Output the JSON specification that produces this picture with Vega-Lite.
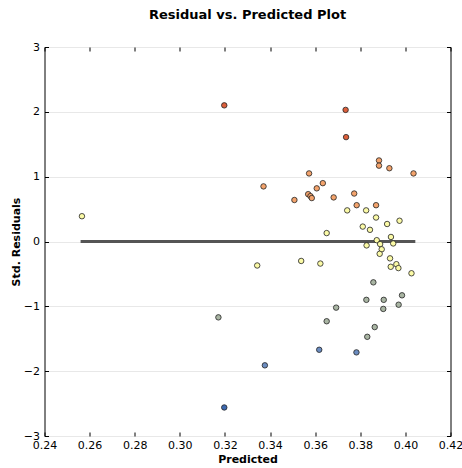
{
  "$schema": "https://vega.github.io/schema/vega-lite/v6.json",
  "width": 406,
  "height": 389,
  "autosize": {"type": "none"},
  "padding": {"left": 44.5, "top": 47, "right": 11, "bottom": 32},
  "background": "white",
  "title": {"text": "Residual vs. Predicted Plot", "font": "DejaVu Sans", "fontSize": 13, "fontWeight": "bold", "color": "black", "offset": 19},
  "config": {
    "view": {"stroke": "black", "strokeWidth": 1},
    "axis": {"labelFont": "DejaVu Sans", "labelFontSize": 11, "labelColor": "black", "titleFont": "DejaVu Sans", "titleFontSize": 11, "titleFontWeight": "bold", "titleColor": "black", "tickColor": "black", "domain": false, "tickSize": -4}
  },
  "datasets": {
    "pts": [
      {"pred": 0.3197, "resid": 2.10},
      {"pred": 0.3735, "resid": 2.03},
      {"pred": 0.3737, "resid": 1.61},
      {"pred": 0.3883, "resid": 1.25},
      {"pred": 0.3883, "resid": 1.17},
      {"pred": 0.3929, "resid": 1.13},
      {"pred": 0.4036, "resid": 1.05},
      {"pred": 0.3573, "resid": 1.05},
      {"pred": 0.3371, "resid": 0.85},
      {"pred": 0.3634, "resid": 0.90},
      {"pred": 0.3607, "resid": 0.82},
      {"pred": 0.3569, "resid": 0.73},
      {"pred": 0.3579, "resid": 0.70},
      {"pred": 0.3585, "resid": 0.67},
      {"pred": 0.3508, "resid": 0.64},
      {"pred": 0.3682, "resid": 0.68},
      {"pred": 0.3773, "resid": 0.74},
      {"pred": 0.3784, "resid": 0.56},
      {"pred": 0.3870, "resid": 0.56},
      {"pred": 0.3742, "resid": 0.48},
      {"pred": 0.3826, "resid": 0.48},
      {"pred": 0.3870, "resid": 0.37},
      {"pred": 0.3974, "resid": 0.32},
      {"pred": 0.3919, "resid": 0.27},
      {"pred": 0.3811, "resid": 0.23},
      {"pred": 0.3843, "resid": 0.18},
      {"pred": 0.3651, "resid": 0.13},
      {"pred": 0.3936, "resid": 0.07},
      {"pred": 0.3873, "resid": 0.02},
      {"pred": 0.3828, "resid": -0.06},
      {"pred": 0.3888, "resid": -0.04},
      {"pred": 0.3946, "resid": -0.03},
      {"pred": 0.3895, "resid": -0.12},
      {"pred": 0.3886, "resid": -0.19},
      {"pred": 0.3932, "resid": -0.26},
      {"pred": 0.3343, "resid": -0.37},
      {"pred": 0.3538, "resid": -0.30},
      {"pred": 0.3623, "resid": -0.34},
      {"pred": 0.3935, "resid": -0.39},
      {"pred": 0.3960, "resid": -0.35},
      {"pred": 0.3969, "resid": -0.41},
      {"pred": 0.4027, "resid": -0.49},
      {"pred": 0.3858, "resid": -0.63},
      {"pred": 0.2566, "resid": 0.39},
      {"pred": 0.3171, "resid": -1.17},
      {"pred": 0.3197, "resid": -2.56},
      {"pred": 0.3985, "resid": -0.83},
      {"pred": 0.3827, "resid": -0.90},
      {"pred": 0.3904, "resid": -0.90},
      {"pred": 0.3970, "resid": -0.975},
      {"pred": 0.3902, "resid": -1.04},
      {"pred": 0.3693, "resid": -1.02},
      {"pred": 0.3651, "resid": -1.23},
      {"pred": 0.3864, "resid": -1.32},
      {"pred": 0.3831, "resid": -1.47},
      {"pred": 0.3618, "resid": -1.67},
      {"pred": 0.3783, "resid": -1.71},
      {"pred": 0.3377, "resid": -1.91}
    ],
    "zero": [{"x": 0.256, "x2": 0.4044, "y": 0}]
  },
  "layer": [
    {
      "data": {"name": "zero"},
      "mark": {"type": "rule", "color": "#555555", "strokeWidth": 3},
      "encoding": {
        "x": {"field": "x", "type": "quantitative", "scale": {"domain": [0.24, 0.42], "nice": false, "zero": false},
              "axis": {"title": "Predicted", "values": [0.24, 0.26, 0.28, 0.30, 0.32, 0.34, 0.36, 0.38, 0.40, 0.42], "format": ".2f", "grid": false, "labelPadding": 7, "titlePadding": 3, "labelFlush": false}},
        "x2": {"field": "x2"},
        "y": {"field": "y", "type": "quantitative", "scale": {"domain": [-3, 3], "nice": false, "zero": false},
              "axis": {"title": "Std. Residuals", "values": [-3, -2, -1, 0, 1, 2, 3], "format": "d", "grid": true, "gridColor": "#e8e8e8", "labelPadding": 9, "titlePadding": 2, "labelFlush": false}}
      }
    },
    {
      "data": {"name": "pts"},
      "mark": {"type": "point", "filled": true, "stroke": "#222222", "strokeWidth": 0.8, "size": 30, "opacity": 1},
      "encoding": {
        "x": {"field": "pred", "type": "quantitative", "axis": {"orient": "top", "labels": false, "title": null, "grid": false, "values": [0.24, 0.26, 0.28, 0.30, 0.32, 0.34, 0.36, 0.38, 0.40, 0.42]}},
        "y": {"field": "resid", "type": "quantitative", "axis": {"orient": "right", "labels": false, "title": null, "grid": false, "values": [-3, -2, -1, 0, 1, 2, 3]}},
        "fill": {"field": "resid", "type": "quantitative", "legend": null,
                 "scale": {"type": "threshold", "domain": [-2.5, -1.5, -0.5, 0.5, 1.5], "range": ["#3d69b0", "#6b8cc0", "#a9b5a3", "#fbfaa6", "#f3a36c", "#dc5f3b"]}}
      }
    }
  ],
  "resolve": {"axis": {"x": "independent", "y": "independent"}}
}
